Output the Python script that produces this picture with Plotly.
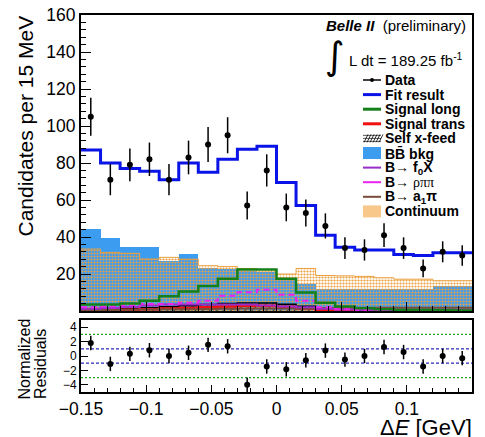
import plotly.graph_objects as go

# ---------------- data ----------------
bin_lo = -0.15
bin_w = 0.015
n_bins = 20
bin_left = [round(bin_lo + i * bin_w, 4) for i in range(n_bins)]
bin_center = [round(b + bin_w / 2, 5) for b in bin_left]
bin_edges = bin_left + [round(bin_lo + n_bins * bin_w, 4)]

data_counts = [105, 71, 79, 82, 71, 83, 90, 95, 57, 76, 56, 53, 46, 34, 33, 41, 34, 23, 32, 30]
data_err = [c ** 0.5 for c in data_counts]
fit_result = [87, 80, 77, 75.5, 71, 80, 75, 82, 87.5, 89, 69.5, 57, 41, 34.5, 33, 33, 30.5, 30, 31.5, 31.5]
signal_long = [3.5, 3.5, 4, 5.5, 8, 10.5, 13.5, 17.5, 22.5, 22.5, 17.5, 10, 4.5, 2.5, 1.5, 1, 0.6, 0.5, 0.4, 0.3]
signal_trans = [0.4, 0.5, 0.7, 1.0, 1.3, 1.6, 2.0, 2.4, 2.8, 2.8, 2.3, 1.3, 0.6, 0.3, 0.2, 0.1, 0.1, 0.1, 0.1, 0.1]
self_xfeed = [0.8, 1.0, 1.3, 1.8, 2.3, 2.8, 3.5, 4.0, 4.3, 4.3, 3.6, 2.6, 1.4, 0.8, 0.5, 0.3, 0.3, 0.2, 0.2, 0.2]
bb_bkg = [44.3, 39.3, 34.4, 34.4, 27.2, 30.8, 23, 22.7, 21.5, 21, 17, 14.6, 12, 12, 12, 12, 12, 12, 13.7, 13.7]
b_f0x = [1.2, 1.6, 2.2, 3, 3.5, 3.5, 3.5, 3.5, 3.5, 3, 2.5, 2, 1.2, 0.8, 0.6, 0.5, 0.4, 0.4, 0.3, 0.3]
b_rhopipi = [2, 2.5, 3, 3.8, 3.8, 4.5, 5.5, 8.3, 10.2, 11.5, 8.8, 5.5, 2, 1, 0.5, 0.3, 0.2, 0.2, 0.2, 0.2]
b_a1pi = [0.5, 0.6, 0.7, 0.8, 0.9, 1, 1.1, 1.2, 1.3, 1.3, 1.3, 1.3, 1.5, 1.6, 1.7, 1.7, 1.8, 1.8, 1.8, 1.8]
continuum = [33.5, 31.7, 31.2, 28.1, 29, 28, 24.5, 24, 23, 22.5, 20, 23, 19.2, 19, 18.7, 18, 17.2, 17.2, 16.4, 16.4]

residuals = [1.8, -1.1, 0.3, 0.8, 0.0, 0.45, 1.55, 1.35, -4.0, -1.45, -1.85, -0.6, 0.75, -0.5, 0.0, 1.25, 0.55, -1.45, 0.0, -0.3]
residual_err = [1.0] * n_bins
inner_levels = [1, -1]
outer_levels = [3, -3]

main_yticks = [20, 40, 60, 80, 100, 120, 140, 160]
res_yticks = [-4, -2, 0, 2, 4]

legend_names = ["Data", "Fit result", "Signal long", "Signal trans", "Self x-feed",
                "BB\u0304 bkg", "B\u2192 f<sub>0</sub>X",
                "B\u2192 <span style=\"font-family:'Liberation Serif';font-weight:normal\">\u03c1\u03c0\u03c0</span>",
                "B\u2192 a<sub>1</sub>\u03c0", "Continuum"]

# ---------------- colours ----------------
C_FIT = "#0a14e6"
C_LONG = "#13801a"
C_TRANS = "#f01010"
C_BB = "#3c9cf0"
C_F0X = "#9a2cc8"
C_RHO = "#ee22ee"
C_A1 = "#7a4a3a"
C_CONT = "#eba040"
FONT = "Liberation Sans, Arial, sans-serif"


def steps(vals):
    return vals + [vals[-1]]


fig = go.Figure()

# BB bkg (filled)
fig.add_trace(go.Bar(x=bin_left, y=bb_bkg, width=bin_w, offset=0,
                     marker=dict(color=C_BB, line=dict(width=0)), showlegend=False,
                     xaxis="x", yaxis="y"))
# Continuum (checker pattern)
fig.add_trace(go.Bar(x=bin_left, y=continuum, width=bin_w, offset=0,
                     marker=dict(color="rgba(0,0,0,0)", line=dict(width=0),
                                 pattern=dict(shape=".", fgcolor=C_CONT, bgcolor="rgba(0,0,0,0)",
                                              size=3, solidity=0.42, fillmode="replace")),
                     showlegend=False, xaxis="x", yaxis="y"))
fig.add_trace(go.Scatter(x=bin_edges, y=steps(continuum), mode="lines", line_shape="hv",
                         line=dict(color=C_CONT, width=1), showlegend=False))
# Self x-feed hatched
fig.add_trace(go.Bar(x=bin_left, y=self_xfeed, width=bin_w, offset=0,
                     marker=dict(color="rgba(0,0,0,0)", line=dict(width=0),
                                 pattern=dict(shape="/", fgcolor="#333333", bgcolor="rgba(0,0,0,0)",
                                              size=5, solidity=0.2, fillmode="replace")),
                     showlegend=False))
fig.add_trace(go.Scatter(x=bin_edges, y=steps(self_xfeed), mode="lines", line_shape="hv",
                         line=dict(color="black", width=1.5), showlegend=False))
# Signal trans
fig.add_trace(go.Scatter(x=bin_edges, y=steps(signal_trans), mode="lines", line_shape="hv",
                         line=dict(color=C_TRANS, width=2.5), showlegend=False))
fig.add_trace(go.Scatter(x=bin_edges, y=steps(b_a1pi), mode="lines", line_shape="hv",
                         line=dict(color=C_A1, width=2), showlegend=False))
fig.add_trace(go.Scatter(x=bin_edges, y=steps(b_f0x), mode="lines", line_shape="hv",
                         line=dict(color=C_F0X, width=2), showlegend=False))
fig.add_trace(go.Scatter(x=bin_edges, y=steps(b_rhopipi), mode="lines", line_shape="hv",
                         line=dict(color=C_RHO, width=2, dash="6px,4px"), showlegend=False))
fig.add_trace(go.Scatter(x=bin_edges, y=steps(signal_long), mode="lines", line_shape="hv",
                         line=dict(color=C_LONG, width=2.5), showlegend=False))
fig.add_trace(go.Scatter(x=bin_edges, y=steps(fit_result), mode="lines", line_shape="hv",
                         line=dict(color=C_FIT, width=3), showlegend=False))
fig.add_trace(go.Scatter(x=bin_center, y=data_counts, mode="markers",
                         marker=dict(color="black", size=6),
                         error_y=dict(type="data", array=data_err, color="black", thickness=1.5, width=0),
                         showlegend=False))

# residuals
fig.add_trace(go.Scatter(x=bin_center, y=residuals, mode="markers",
                         marker=dict(color="black", size=6),
                         error_y=dict(type="data", array=residual_err, color="black", thickness=1.5, width=0),
                         showlegend=False, xaxis="x2", yaxis="y2"))

# ---------------- layout geometry ----------------
W, H = 485, 437
L, R, T, B = 81, 472, 15, 392
MAIN_BOTTOM, RES_TOP = 311, 320


def px(x):
    return (x - L) / (R - L)


def py(y):
    return (B - y) / (B - T)


shapes = []
for lv in inner_levels:
    shapes.append(dict(type="line", xref="x2", yref="y2", x0=bin_edges[0], x1=bin_edges[-1], y0=lv, y1=lv,
                       line=dict(color="#2a2ab8", width=1.3, dash="3px,2px"), layer="below"))
for lv in outer_levels:
    shapes.append(dict(type="line", xref="x2", yref="y2", x0=bin_edges[0], x1=bin_edges[-1], y0=lv, y1=lv,
                       line=dict(color="#2f9a2f", width=1.3, dash="2px,2px"), layer="below"))

annotations = []
# header texts
annotations.append(dict(xref="paper", yref="paper", x=px(468), y=py(25), xanchor="right", yanchor="middle",
                        text="<b><i>Belle II</i></b>  (preliminary)", showarrow=False,
                        font=dict(family=FONT, size=15, color="black")))
annotations.append(dict(xref="paper", yref="paper", x=px(335), y=py(56), xanchor="center", yanchor="middle",
                        text="\u222b", showarrow=False,
                        font=dict(family="DejaVu Sans", size=38, color="black")))
annotations.append(dict(xref="paper", yref="paper", x=px(347), y=py(59), xanchor="left", yanchor="middle",
                        text="L dt = 189.25 fb<sup>-1</sup>", showarrow=False,
                        font=dict(family=FONT, size=15, color="black")))

# legend
LEG_Y0, LEG_DY = 80, 14.6
SX0, SX1, TX = 363, 381, 383
line_styles = {
    0: ("black", 1.5, "solid"),
    1: (C_FIT, 3, "solid"),
    2: (C_LONG, 3, "solid"),
    3: (C_TRANS, 3, "solid"),
    6: (C_F0X, 2, "solid"),
    7: (C_RHO, 2, "solid"),
    8: (C_A1, 2, "solid"),
}
for i, name in enumerate(legend_names):
    yc = LEG_Y0 + i * LEG_DY
    annotations.append(dict(xref="paper", yref="paper", x=px(TX), y=py(yc), xanchor="left", yanchor="middle",
                            text="<b>" + name + "</b>", showarrow=False,
                            font=dict(family=FONT, size=14, color="black")))
    if i in line_styles:
        col, wd, ds = line_styles[i]
        shapes.append(dict(type="line", xref="paper", yref="paper", x0=px(SX0), x1=px(SX1),
                           y0=py(yc), y1=py(yc), line=dict(color=col, width=wd, dash=ds)))
        if i == 0:
            shapes.append(dict(type="circle", xref="paper", yref="paper", x0=px(370), x1=px(374),
                               y0=py(yc - 2), y1=py(yc + 2), fillcolor="black", line=dict(width=0)))
    elif i == 4:  # hatched self x-feed
        for k in range(3):
            yy = yc - 3 + 3 * k
            shapes.append(dict(type="line", xref="paper", yref="paper", x0=px(SX0), x1=px(SX1),
                               y0=py(yy), y1=py(yy), line=dict(color="#333333", width=0.8)))
        for k in range(6):
            xx = SX0 + 1 + 3 * k
            shapes.append(dict(type="line", xref="paper", yref="paper", x0=px(xx), x1=px(xx + 4),
                               y0=py(yc + 4), y1=py(yc - 4), line=dict(color="black", width=0.8)))
    elif i == 5:
        shapes.append(dict(type="rect", xref="paper", yref="paper", x0=px(SX0), x1=px(SX1),
                           y0=py(yc - 6), y1=py(yc + 6), fillcolor=C_BB, line=dict(width=0)))
    elif i == 9:
        shapes.append(dict(type="rect", xref="paper", yref="paper", x0=px(SX0), x1=px(SX1),
                           y0=py(yc - 6), y1=py(yc + 6), fillcolor="#f8c88a", line=dict(width=0)))

# axis titles
annotations.append(dict(xref="paper", yref="paper", x=px(25), y=py(14), xanchor="center", yanchor="top",
                        text="Candidates per 15 MeV", textangle=-90, showarrow=False,
                        font=dict(family=FONT, size=21, color="black")))
annotations.append(dict(xref="paper", yref="paper", x=px(24), y=py(401), xanchor="center", yanchor="bottom",
                        text="Normalized", textangle=-90, showarrow=False,
                        font=dict(family=FONT, size=16, color="black")))
annotations.append(dict(xref="paper", yref="paper", x=px(40), y=py(401), xanchor="center", yanchor="bottom",
                        text="Residuals", textangle=-90, showarrow=False,
                        font=dict(family=FONT, size=16, color="black")))
annotations.append(dict(xref="paper", yref="paper", x=px(474), y=py(413), xanchor="right", yanchor="top",
                        text="\u0394<i>E</i> [GeV]", showarrow=False,
                        font=dict(family=FONT, size=22, color="black")))

main_dom = [py(MAIN_BOTTOM), 1.0]
res_dom = [0.0, py(RES_TOP)]

axis_common = dict(showgrid=False, zeroline=False, showline=True, linecolor="black", linewidth=2,
                   mirror=True, ticks="inside", tickcolor="black", automargin=False)

fig.update_layout(
    width=W, height=H,
    margin=dict(l=L, r=W - R, t=T, b=H - B, pad=0),
    paper_bgcolor="white", plot_bgcolor="white",
    barmode="overlay", bargap=0,
    showlegend=False,
    font=dict(family=FONT, color="black"),
    xaxis=dict(domain=[0, 1], anchor="y", range=[bin_edges[0], bin_edges[-1]], showticklabels=False,
               dtick=0.05, tick0=-0.15, ticklen=9,
               minor=dict(ticks="inside", dtick=0.01, ticklen=5, tickcolor="black"), **axis_common),
    yaxis=dict(domain=main_dom, anchor="x", range=[0, 160], tickvals=main_yticks, ticklen=10,
               tickfont=dict(size=17.5), minor=dict(ticks="inside", dtick=4, ticklen=5, tickcolor="black"),
               **axis_common),
    xaxis2=dict(domain=[0, 1], anchor="y2", range=[bin_edges[0], bin_edges[-1]], dtick=0.05, tick0=-0.15,
                ticklen=7, tickfont=dict(size=17.5),
                minor=dict(ticks="inside", dtick=0.01, ticklen=4, tickcolor="black"), **axis_common),
    yaxis2=dict(domain=res_dom, anchor="x2", range=[-5, 5], tickvals=res_yticks, ticklen=7,
                tickfont=dict(size=12), **axis_common),
    shapes=shapes,
    annotations=annotations,
)

fig.write_html("out.html", config={"displayModeBar": False},
               post_script="document.body.style.margin='0px';document.body.style.padding='0px';")
